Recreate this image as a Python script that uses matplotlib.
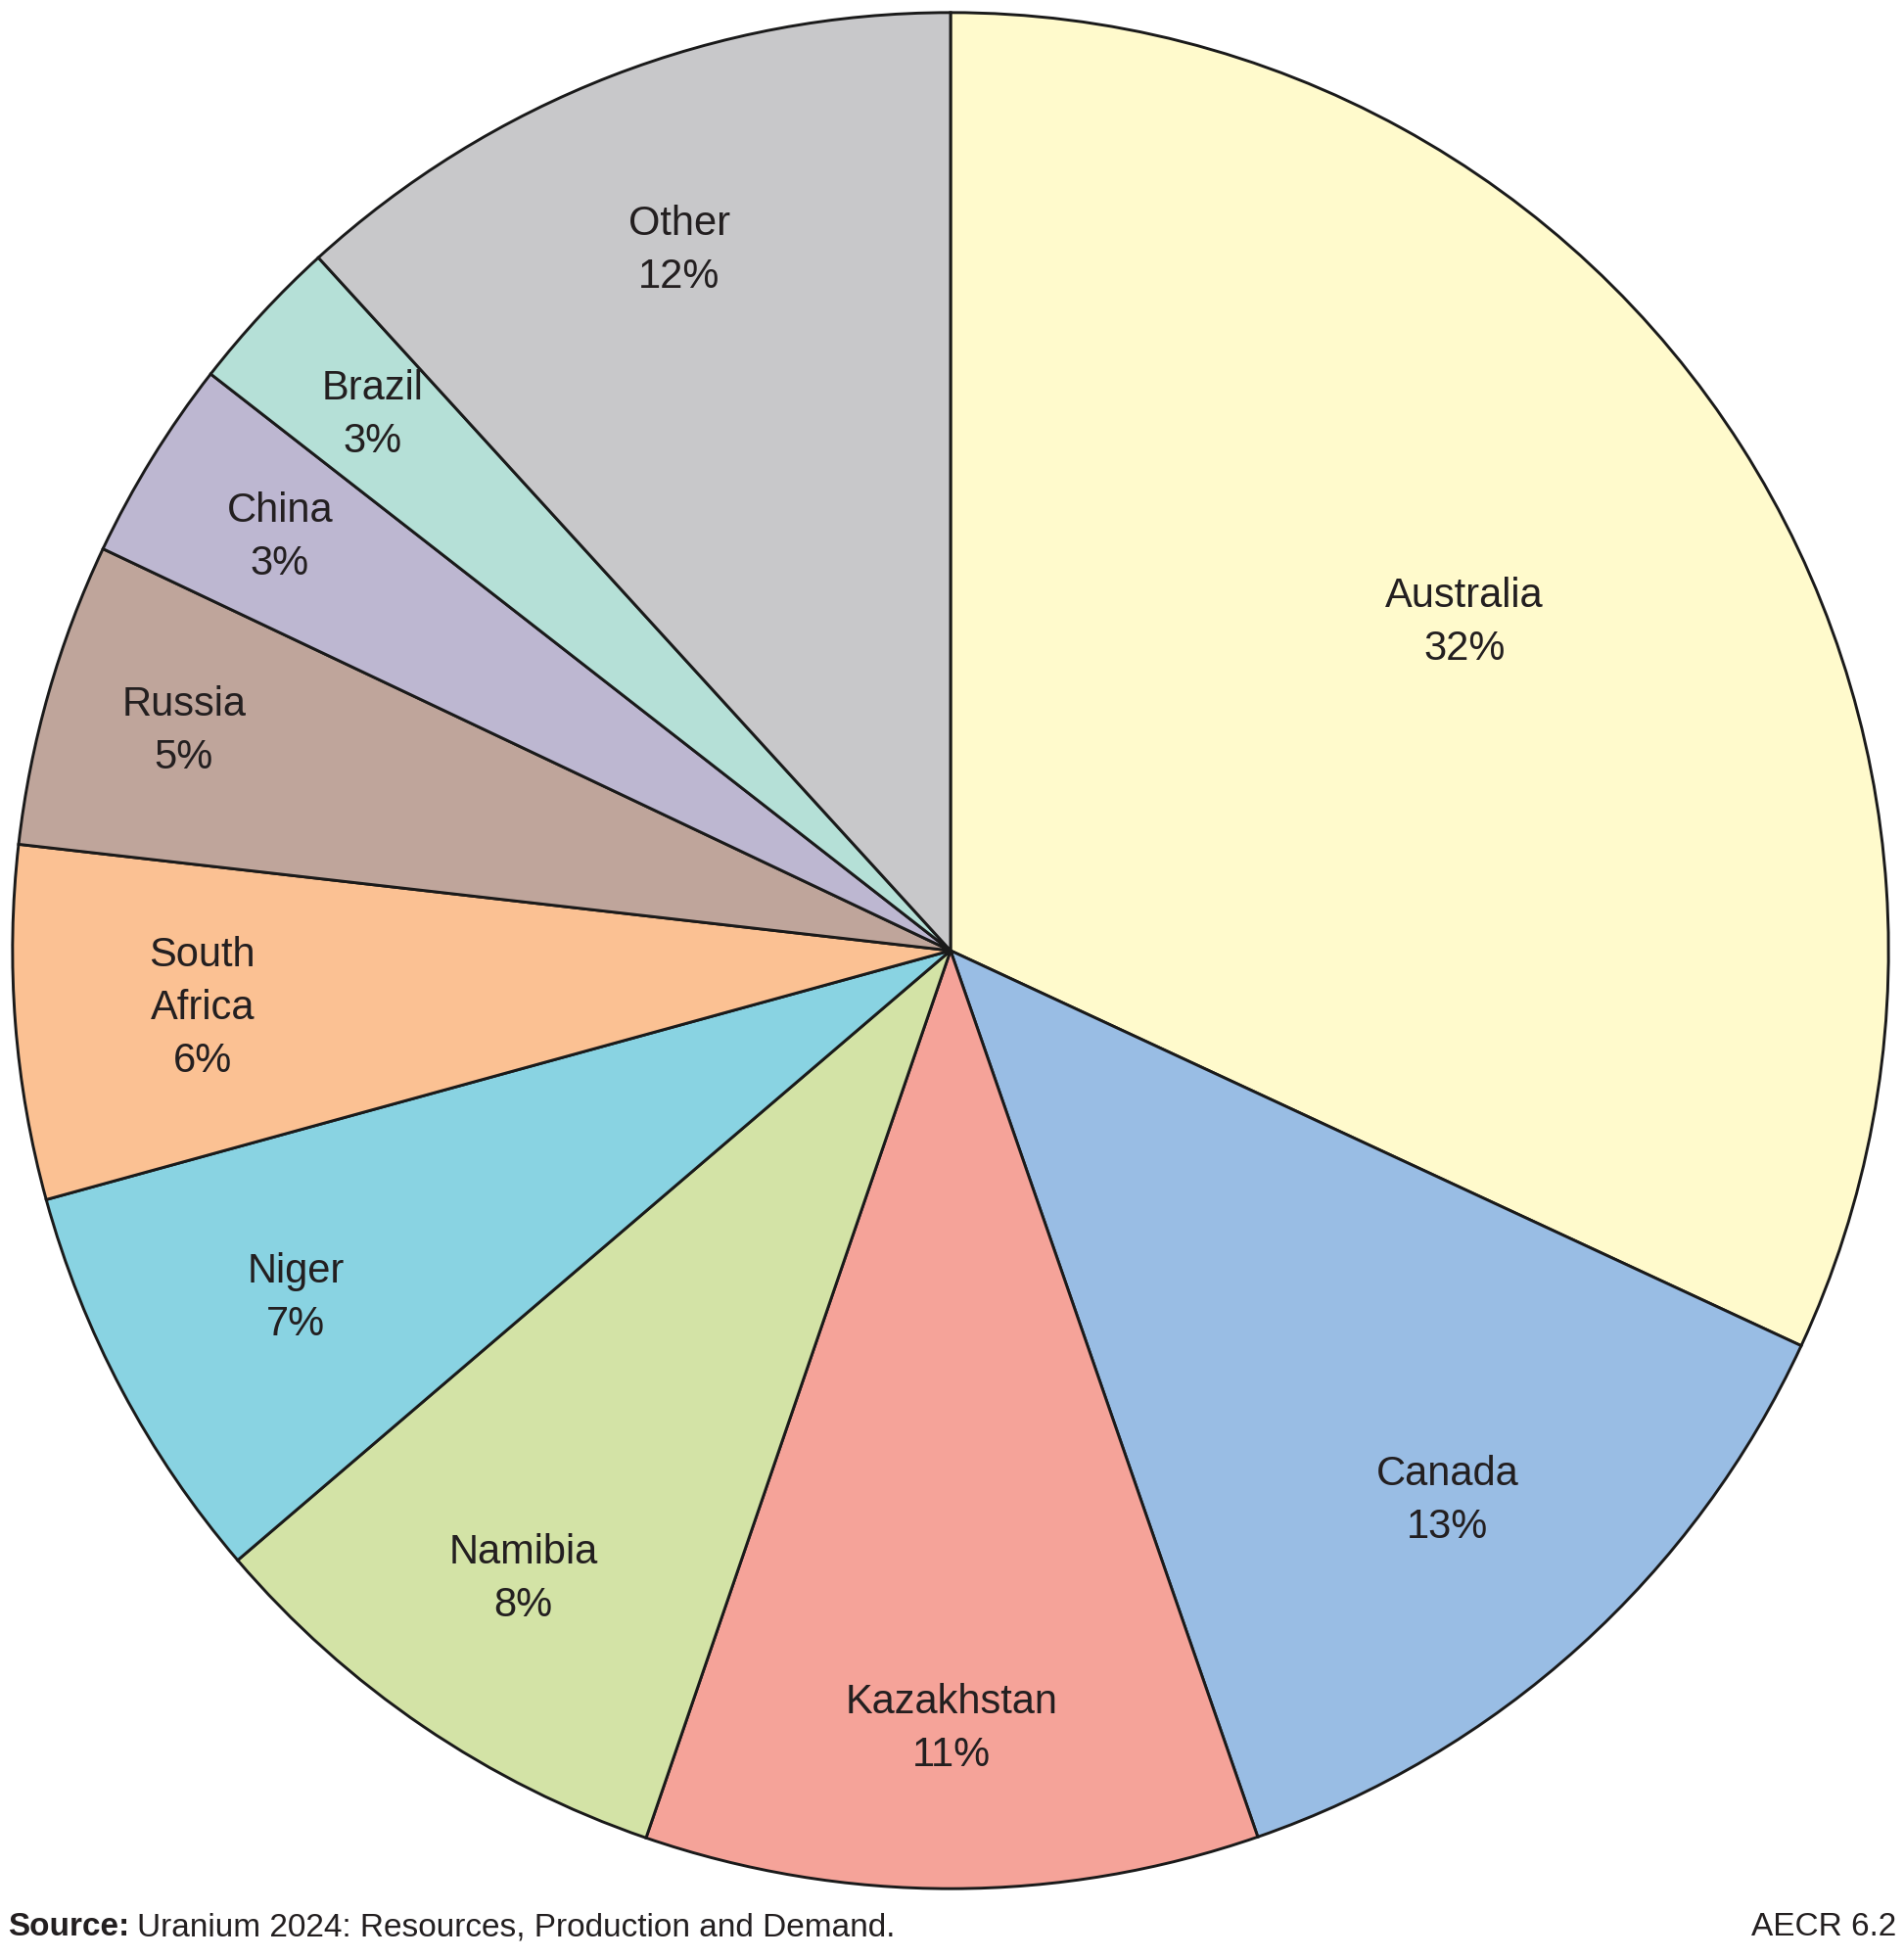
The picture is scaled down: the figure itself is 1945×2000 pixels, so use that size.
import matplotlib
matplotlib.use("Agg")
import matplotlib.pyplot as plt
from matplotlib.transforms import offset_copy
import numpy as np

# share of world uranium resources (slice sizes, labels as printed)
countries = ['Australia', 'Canada', 'Kazakhstan', 'Namibia', 'Niger',
             'South\nAfrica', 'Russia', 'China', 'Brazil', 'Other']
shares = [32, 12.8, 10.6, 8.5, 7.0, 6.1, 5.25, 3.5, 2.7, 11.8]
pct_labels = ['32%', '13%', '11%', '8%', '7%', '6%', '5%', '3%', '3%', '12%']
colors = ['#FFFACC', '#99BDE4', '#F5A399', '#D3E3A6', '#89D3E2',
          '#FBC193', '#BFA59B', '#BDB7D1', '#B5E0D7', '#C8C8CA']
label_r = [0.65, 0.79, 0.83, 0.81, 0.79, 0.80, 0.85, 0.84, 0.84, 0.80]

plt.rcParams['font.family'] = ['Liberation Sans', 'DejaVu Sans']

W, H = 1945, 2000
cx, cy, R = 971, 971, 962
fig = plt.figure(figsize=(W / 100, H / 100), dpi=100)
ax = fig.add_axes([(cx - R) / W, 1 - (cy + R) / H, 2 * R / W, 2 * R / H])

wedges, _ = ax.pie(shares, colors=colors, startangle=90, counterclock=False,
                   radius=1, wedgeprops=dict(edgecolor='#1a1a1a', linewidth=2.1))
ax.set_xlim(-1.004, 1.004)
ax.set_ylim(-1.004, 1.004)
ax.set_aspect('equal')
ax.axis('off')

for w, name, pct, r in zip(wedges, countries, pct_labels, label_r):
    ang = np.deg2rad((w.theta1 + w.theta2) / 2)
    ax.text(r * np.cos(ang), r * np.sin(ang), name + '\n' + pct,
            ha='center', va='center', fontsize=30, color='#231f20',
            linespacing=1.45)

src = fig.text(0.004, 0.008, 'Source:', fontsize=24, fontweight='bold',
               color='#231f20', ha='left', va='bottom')
fig.canvas.draw()
bb = src.get_window_extent()
fig.text(bb.x1 / W + 0.004, 0.008, 'Uranium 2024: Resources, Production and Demand.',
         fontsize=24, color='#231f20', ha='left', va='bottom')
fig.text(0.996, 0.008, 'AECR 6.2', fontsize=24, color='#231f20', ha='right', va='bottom')

fig.savefig('out.png', dpi=100)
